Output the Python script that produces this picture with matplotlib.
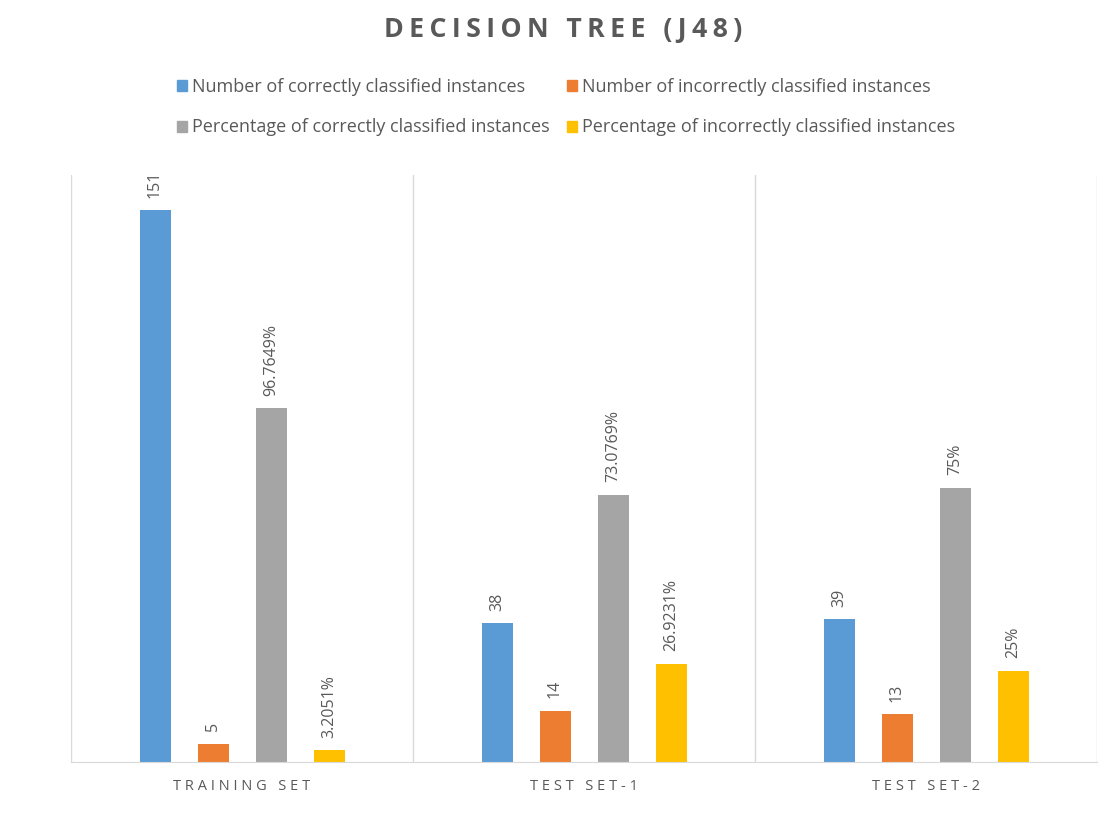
import matplotlib
matplotlib.use("Agg")
import matplotlib.pyplot as plt
import numpy as np
from matplotlib.patches import Patch

categories = ["TRAINING SET", "TEST SET-1", "TEST SET-2"]
series_names = [
    "Number of correctly classified instances",
    "Number of incorrectly classified instances",
    "Percentage of correctly classified instances",
    "Percentage of incorrectly classified instances",
]
correct_count = [151, 38, 39]
incorrect_count = [5, 14, 13]
correct_pct = [96.7649, 73.0769, 75]
incorrect_pct = [3.2051, 26.9231, 25]
labels_correct_count = ["151", "38", "39"]
labels_incorrect_count = ["5", "14", "13"]
labels_correct_pct = ["96.7649%", "73.0769%", "75%"]
labels_incorrect_pct = ["3.2051%", "26.9231%", "25%"]
title = "DECISION TREE (J48)"

colors = ["#5B9BD5", "#ED7D31", "#A5A5A5", "#FFC000"]
text_color = "#595959"
font = ["Open Sans", "DejaVu Sans"]
plt.rcParams["font.family"] = font


def spaced(s, sep="\u2009"):
    return sep.join(s)


fig = plt.figure(figsize=(11.12, 8.14), dpi=100)
ax = fig.add_axes([71/1112, 1-762/814, (1097-71)/1112, (762-175)/814])

series = [correct_count, incorrect_count, correct_pct, incorrect_pct]
labels = [labels_correct_count, labels_incorrect_count, labels_correct_pct, labels_incorrect_pct]
x = np.arange(len(categories))
step = 58/342
width = 31/342
for i, (vals, labs) in enumerate(zip(series, labels)):
    pos = x + (i - 1.5) * step
    bars = ax.bar(pos, vals, width=width, color=colors[i])
    for b, lab in zip(bars, labs):
        ax.annotate(lab, (b.get_x() + b.get_width()/2, b.get_height()),
                    xytext=(0, 9), textcoords="offset points",
                    rotation=90, ha="center", va="bottom",
                    fontsize=11.5, color=text_color)

ax.set_xlim(-0.5, 2.5)
ax.set_ylim(0, 160.6)
ax.set_yticks([])
ax.set_xticks(x)
ax.set_xticklabels([spaced(c, "\u2009\u200a") for c in categories], fontsize=10.5, color=text_color)
ax.tick_params(axis="x", length=0, pad=12)
for sp in ["top", "right", "left"]:
    ax.spines[sp].set_visible(False)
ax.spines["bottom"].set_color("#D9D9D9")
for b in [-0.5, 0.5, 1.5, 2.5]:
    ax.axvline(b, color="#D9D9D9", lw=1, zorder=0)

fig.text(563/1112, 1-30/814, spaced(title), ha="center", va="center",
         fontsize=19.3, fontweight="bold", color=text_color)

handles = [Patch(color=colors[0]), Patch(color=colors[2]), Patch(color=colors[1]), Patch(color=colors[3])]
names = [series_names[0], series_names[2], series_names[1], series_names[3]]
fig.legend(handles, names, ncol=2, loc="center", bbox_to_anchor=(566/1112, 1-107/814),
           frameon=False, fontsize=13, labelcolor=text_color, handlelength=0.55,
           handleheight=0.55, handletextpad=0.3, columnspacing=0.95, labelspacing=1.27)

fig.savefig("out.png", dpi=100)
